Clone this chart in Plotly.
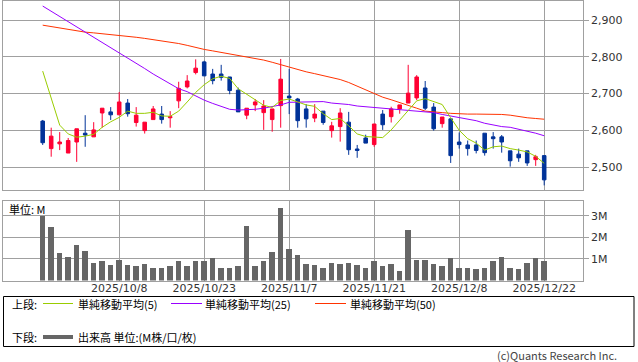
import plotly.graph_objects as go

# ---------------- data ----------------
dates = [
    "2025/9/25", "2025/9/26", "2025/9/29", "2025/9/30", "2025/10/1", "2025/10/2", "2025/10/3",
    "2025/10/6", "2025/10/7", "2025/10/8", "2025/10/9", "2025/10/10", "2025/10/14", "2025/10/15",
    "2025/10/16", "2025/10/17", "2025/10/20", "2025/10/21", "2025/10/22", "2025/10/23",
    "2025/10/24", "2025/10/27", "2025/10/28", "2025/10/29", "2025/10/30", "2025/10/31",
    "2025/11/4", "2025/11/5", "2025/11/6", "2025/11/7", "2025/11/10", "2025/11/11",
    "2025/11/12", "2025/11/13", "2025/11/14", "2025/11/17", "2025/11/18", "2025/11/19",
    "2025/11/20", "2025/11/21", "2025/11/25", "2025/11/26", "2025/11/27", "2025/11/28",
    "2025/12/1", "2025/12/2", "2025/12/3", "2025/12/4", "2025/12/5", "2025/12/8",
    "2025/12/9", "2025/12/10", "2025/12/11", "2025/12/12", "2025/12/15", "2025/12/16",
    "2025/12/17", "2025/12/18", "2025/12/19", "2025/12/22",
]

opens = [2625, 2550, 2563, 2538, 2568, 2592, 2582, 2647, 2650, 2642,
         2674, 2621, 2599, 2629, 2644, 2634, 2680, 2718, 2757, 2786,
         2753, 2753, 2745, 2709, 2641, 2669, 2648, 2629, 2667, 2693,
         2685, 2658, 2633, 2652, 2599, 2610, 2622, 2549, 2579, 2561,
         2644, 2637, 2658, 2674, 2688, 2715, 2663, 2618, 2631, 2568,
         2560, 2560, 2592, 2582, 2582, 2544, 2535, 2544, 2520, 2531]
highs = [2628, 2607, 2595, 2579, 2604, 2641, 2622, 2660, 2663, 2704,
         2685, 2663, 2622, 2666, 2666, 2652, 2732, 2750, 2793, 2789,
         2767, 2778, 2745, 2716, 2660, 2685, 2682, 2658, 2794, 2767,
         2688, 2671, 2671, 2652, 2623, 2660, 2650, 2560, 2588, 2617,
         2655, 2664, 2669, 2778, 2750, 2734, 2674, 2636, 2631, 2594,
         2572, 2572, 2592, 2595, 2587, 2544, 2550, 2544, 2533, 2531]
lows = [2560, 2528, 2546, 2538, 2514, 2555, 2582, 2607, 2628, 2642,
        2637, 2610, 2591, 2629, 2618, 2607, 2660, 2714, 2752, 2748,
        2725, 2735, 2698, 2650, 2630, 2652, 2601, 2596, 2607, 2644,
        2607, 2607, 2622, 2615, 2580, 2569, 2533, 2525, 2565, 2555,
        2601, 2621, 2645, 2674, 2682, 2655, 2599, 2607, 2511, 2550,
        2531, 2537, 2531, 2550, 2539, 2501, 2514, 2503, 2503, 2450]
closes = [2566, 2584, 2568, 2572, 2604, 2587, 2601, 2660, 2642, 2677,
          2645, 2641, 2622, 2658, 2629, 2637, 2714, 2734, 2769, 2748,
          2735, 2744, 2708, 2650, 2660, 2677, 2666, 2658, 2739, 2688,
          2626, 2631, 2644, 2621, 2612, 2647, 2547, 2545, 2565, 2617,
          2615, 2658, 2669, 2701, 2745, 2660, 2604, 2636, 2531, 2561,
          2550, 2545, 2539, 2577, 2568, 2517, 2525, 2511, 2528, 2465]

ma5 = [2761, 2690, 2614, 2590, 2581, 2584, 2589, 2608, 2623, 2635,
       2652, 2646, 2646, 2649, 2639, 2638, 2652, 2677, 2703, 2724,
       2740, 2747, 2741, 2713, 2697, 2683, 2668, 2662, 2681, 2685,
       2677, 2669, 2665, 2645, 2629, 2632, 2612, 2590, 2583, 2582,
       2580, 2601, 2627, 2654, 2680, 2686, 2677, 2670, 2634, 2600,
       2577, 2565, 2546, 2555, 2557, 2550, 2546, 2541, 2529, 2510]
ma25 = [2938, 2924, 2910, 2895, 2881, 2867, 2853, 2839, 2824, 2810,
        2796, 2782, 2768, 2753, 2739, 2725, 2713, 2705, 2693, 2682,
        2673, 2666, 2657, 2655, 2655, 2657, 2660, 2664, 2669, 2676,
        2677, 2678, 2678, 2678, 2674, 2673, 2670, 2666, 2664, 2662,
        2660, 2658, 2657, 2655, 2654, 2652, 2648, 2643, 2639, 2635,
        2630, 2626, 2619, 2614, 2610, 2608, 2603, 2596, 2592, 2585]
ma50 = [2886, 2882, 2878, 2874, 2870, 2867, 2865, 2863, 2861, 2859,
        2856, 2853, 2850, 2847, 2844, 2840, 2836, 2831, 2825, 2820,
        2816, 2812, 2808, 2804, 2800, 2796, 2791, 2785, 2778, 2771,
        2765, 2759, 2754, 2749, 2744, 2738, 2730, 2720, 2710, 2699,
        2690, 2683, 2676, 2668, 2660, 2652, 2649, 2648, 2646, 2644,
        2644, 2644, 2644, 2644, 2643, 2641, 2637, 2634, 2632, 2630]

volumes_m = [2.97, 2.49, 1.29, 1.11, 1.66, 1.38, 0.83, 0.92, 0.74, 0.97,
             0.74, 0.69, 0.78, 0.60, 0.60, 0.69, 0.88, 0.65, 0.88, 0.92,
             1.02, 0.60, 0.60, 0.65, 2.54, 0.65, 0.92, 1.34, 3.37, 1.48,
             1.20, 0.78, 0.74, 0.60, 0.83, 0.78, 0.83, 0.74, 0.60, 0.92,
             0.65, 0.78, 0.46, 2.35, 0.97, 0.97, 0.78, 0.65, 1.06, 0.60,
             0.60, 0.51, 0.60, 0.88, 1.11, 0.60, 0.51, 0.83, 1.02, 0.92]

tick_dates = ["2025/10/8", "2025/10/23", "2025/11/7", "2025/11/21", "2025/12/8", "2025/12/22"]
price_ticks = [2500, 2600, 2700, 2800, 2900]
price_tick_labels = ["2,500", "2,600", "2,700", "2,800", "2,900"]
vol_ticks = [1, 2, 3]
vol_tick_labels = ["1M", "2M", "3M"]

legend_labels = ["単純移動平均(5)", "単純移動平均(25)", "単純移動平均(50)"]
volume_label = "出来高 単位:(M株/口/枚)"

# ---------------- figure ----------------
W, H = 638, 362
def px(x):
    return x / W
def py(y):
    return 1 - y / H

x = list(range(len(dates)))
tickvals = [dates.index(d) for d in tick_dates]

RED = "#ff0033"
BLUE = "#003399"
GRID = "#a0a0a0"
JP = "Noto Sans CJK JP"
LAT = "DejaVu Sans"

fig = go.Figure()

fig.add_trace(go.Candlestick(
    x=x, open=opens, high=highs, low=lows, close=closes,
    increasing=dict(line=dict(color=RED, width=1), fillcolor=RED),
    decreasing=dict(line=dict(color=BLUE, width=1), fillcolor=BLUE),
    whiskerwidth=0, xaxis="x", yaxis="y", showlegend=False, name="",
))
fig.add_trace(go.Scatter(x=x, y=ma50, mode="lines", line=dict(color="#ff3300", width=1),
                         xaxis="x", yaxis="y", showlegend=False))
fig.add_trace(go.Scatter(x=x, y=ma25, mode="lines", line=dict(color="#9900ff", width=1),
                         xaxis="x", yaxis="y", showlegend=False))
fig.add_trace(go.Scatter(x=x, y=ma5, mode="lines", line=dict(color="#99cc00", width=1),
                         xaxis="x", yaxis="y", showlegend=False))
fig.add_trace(go.Bar(x=x, y=volumes_m, width=0.67, marker=dict(color="#666666", line=dict(width=0)),
                     xaxis="x2", yaxis="y2", showlegend=False))

xdom = [px(3.3), px(582.7)]
xrange_ = [-4.635, 63.53]

axis_common = dict(showline=True, linecolor=GRID, linewidth=1, mirror=True,
                   showgrid=True, gridcolor=GRID, gridwidth=1, zeroline=False)

fig.update_layout(
    width=W, height=H, autosize=False,
    margin=dict(l=0, r=0, t=0, b=0),
    paper_bgcolor="white", plot_bgcolor="white",
    boxgap=0.4,
    bargap=0,
    xaxis=dict(domain=xdom, range=xrange_, tickvals=tickvals, showticklabels=False,
               ticks="", rangeslider=dict(visible=False), anchor="y", **axis_common),
    yaxis=dict(domain=[py(190), py(0.5)], range=[2437.4, 2953.1], side="right",
               tickvals=price_ticks, ticktext=price_tick_labels, ticks="outside",
               ticklen=5, tickcolor=GRID, anchor="x",
               tickfont=dict(family=LAT, size=11, color="#333333"), **axis_common),
    xaxis2=dict(domain=xdom, range=xrange_, tickvals=tickvals, ticktext=tick_dates,
                ticks="", anchor="y2", ticklabelstandoff=-3,
                tickfont=dict(family=LAT, size=11, color="#333333"), **axis_common),
    yaxis2=dict(domain=[py(280.5), py(201)], range=[0, 3.68], side="right",
                tickvals=vol_ticks, ticktext=vol_tick_labels, ticks="outside",
                ticklen=5, tickcolor=GRID, anchor="x2",
                tickfont=dict(family=LAT, size=11, color="#333333"), **axis_common),
)

annotations = []
def label(text, x0, y0, anchor="left", size=11, color="#000000", family=JP):
    annotations.append(dict(text=text, x=px(x0), y=py(y0), xref="paper", yref="paper",
                            xanchor=anchor, yanchor="middle", showarrow=False,
                            font=dict(family=family, size=size, color=color)))

label("単位: M", 7, 209)
label("上段:", 10, 303.5)
label(legend_labels[0], 76, 303.5)
label(legend_labels[1], 203, 303.5)
label(legend_labels[2], 348, 303.5)
label("下段:", 10, 337)
label(volume_label, 76, 337)
label("(c)Quants Research Inc.", 619, 355, anchor="right", size=11, color="#444444")
fig.update_layout(annotations=annotations)

shapes = [
    dict(type="rect", xref="paper", yref="paper", x0=px(3.5), x1=px(634), y0=py(346.5), y1=py(296.5),
         line=dict(color="#000000", width=1)),
    dict(type="line", xref="paper", yref="paper", x0=px(43), x1=px(73), y0=py(303.5), y1=py(303.5),
         line=dict(color="#99cc00", width=1)),
    dict(type="line", xref="paper", yref="paper", x0=px(171), x1=px(202), y0=py(303.5), y1=py(303.5),
         line=dict(color="#9900ff", width=1)),
    dict(type="line", xref="paper", yref="paper", x0=px(315), x1=px(346), y0=py(303.5), y1=py(303.5),
         line=dict(color="#ff3300", width=1)),
    dict(type="line", xref="paper", yref="paper", x0=px(43), x1=px(73), y0=py(337), y1=py(337),
         line=dict(color="#666666", width=4)),
]
fig.update_layout(shapes=shapes)

fig.write_html("out.html", config={"displayModeBar": False},
               post_script="document.body.style.margin='0';document.body.style.overflow='hidden';")
